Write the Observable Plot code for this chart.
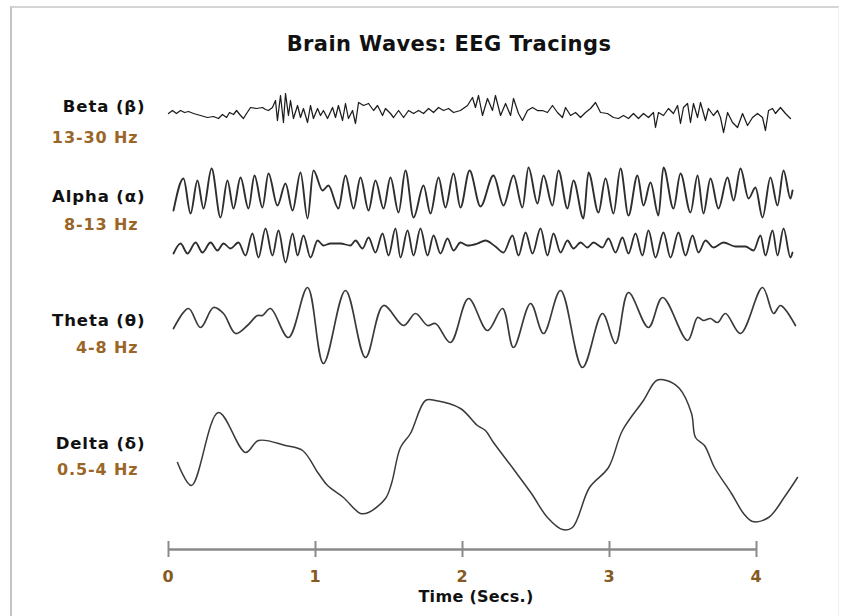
<!DOCTYPE html>
<html>
<head>
<meta charset="utf-8">
<script src="https://cdn.jsdelivr.net/npm/d3@7"></script>
<script src="https://cdn.jsdelivr.net/npm/@observablehq/plot@0.6"></script>
<style>
  html, body { margin: 0; padding: 0; background: #fff; }
  #wrap { position: relative; width: 841px; height: 616px; overflow: hidden; font-family: "DejaVu Sans", sans-serif; }
  #frame { position: absolute; left: 10px; top: 6px; width: 826px; height: 640px;
           border-top: 2px solid #d4d4d4; border-left: 2px solid #c4c4c4; border-right: 1px solid #efefef; }
  #title { position: absolute; top: 32px; left: 0; width: 898px; text-align: center;
           font-weight: bold; font-size: 21px; letter-spacing: 0.4px; color: #111; }
  #chart { position: absolute; top: 64px; left: 0; }
  #xlabel { position: absolute; top: 587px; left: 0; width: 952px; text-align: center;
            font-weight: bold; font-size: 16px; letter-spacing: 0.3px; color: #111; }
</style>
</head>
<body>
<div id="wrap">
  <div id="frame"></div>
  <div id="title">Brain Waves: EEG Tracings</div>
  <div id="chart"></div>
  <div id="xlabel">Time (Secs.)</div>
</div>
<script>
const xTicks = [0, 1, 2, 3, 4];

const bandNames  = ["Beta (β)", "Alpha (α)", "Theta (θ)", "Delta (δ)"];
const bandRanges = ["13-30 Hz", "8-13 Hz", "4-8 Hz", "0.5-4 Hz"];

const betaT = [0.000,0.027,0.054,0.082,0.109,0.136,0.170,0.218,0.265,0.306,
  0.340,0.367,0.395,0.415,0.442,0.463,0.490,0.510,0.531,0.558,
  0.599,0.639,0.660,0.680,0.707,0.728,0.741,0.762,0.782,0.796,
  0.816,0.830,0.850,0.878,0.898,0.918,0.946,0.966,0.986,1.014,
  1.034,1.054,1.082,1.116,1.136,1.156,1.184,1.204,1.224,1.252,
  1.272,1.293,1.327,1.361,1.395,1.422,1.456,1.476,1.510,1.531,
  1.565,1.599,1.633,1.667,1.701,1.735,1.769,1.803,1.837,1.871,
  1.905,1.939,1.986,2.034,2.068,2.088,2.109,2.136,2.170,2.204,
  2.224,2.259,2.293,2.327,2.347,2.381,2.408,2.442,2.476,2.510,
  2.544,2.578,2.612,2.646,2.680,2.701,2.735,2.769,2.803,2.837,
  2.871,2.905,2.939,2.986,3.027,3.061,3.095,3.129,3.163,3.197,
  3.231,3.265,3.299,3.313,3.333,3.367,3.401,3.435,3.463,3.483,
  3.503,3.531,3.551,3.571,3.599,3.619,3.653,3.673,3.707,3.735,
  3.755,3.776,3.803,3.837,3.871,3.905,3.939,3.973,4.007,4.041,
  4.061,4.082,4.109,4.129,4.163,4.197,4.231];
const betaV = [-1,2,-1,2,0,1,-1,-3,-5,-4,
  -6,-2,-5,0,-2,2,-3,-6,-1,5,
  4,5,3,2,5,12,-8,17,-10,19,
  -3,12,-6,7,-5,4,-10,7,-6,4,
  -3,2,-6,5,-5,7,-8,9,-6,2,
  -11,10,7,9,2,7,-3,4,-1,-5,
  2,-5,2,-1,2,-1,4,0,5,2,
  4,0,2,7,15,5,17,-3,14,2,
  17,-3,9,-3,14,-1,-8,2,5,2,
  2,0,7,0,-5,5,-3,0,-5,0,
  4,10,0,-1,-5,-6,-3,-6,-1,-6,
  -1,-5,0,-15,0,-3,4,-1,7,-11,
  5,9,-10,9,-5,10,-8,4,-3,2,
  -5,-20,0,-10,-15,-1,-13,-5,-1,-5,
  -18,2,4,-1,5,-1,-6];

const alpha1T = [0.034,0.102,0.150,0.197,0.238,0.293,0.354,0.401,0.442,0.490,
  0.544,0.585,0.639,0.680,0.741,0.796,0.844,0.898,0.946,0.986,
  1.048,1.088,1.156,1.204,1.259,1.306,1.361,1.408,1.463,1.510,
  1.565,1.612,1.667,1.735,1.782,1.837,1.884,1.939,1.986,2.048,
  2.122,2.211,2.279,2.347,2.408,2.449,2.510,2.551,2.612,2.653,
  2.714,2.755,2.823,2.857,2.925,2.973,3.027,3.075,3.129,3.190,
  3.231,3.279,3.333,3.367,3.435,3.483,3.551,3.599,3.639,3.687,
  3.741,3.803,3.844,3.891,3.946,3.993,4.041,4.095,4.143,4.184,
  4.231,4.245];
const alpha1V = [-15,17,-18,15,-13,27,-22,15,-13,18,
  -13,20,-12,22,-10,12,-15,23,-23,25,
  5,10,-13,20,-13,18,-15,15,-13,18,
  -17,25,-22,10,-18,18,-12,22,-12,25,
  -11,20,-10,20,-12,28,-8,20,-10,25,
  -13,15,-23,23,-17,17,-18,27,-20,20,
  -10,13,-20,28,-13,22,-17,20,-18,17,
  -13,18,-5,27,-3,8,-22,18,-10,25,
  -3,5];

const alpha2T = [0.034,0.082,0.129,0.184,0.231,0.286,0.333,0.374,0.422,0.476,
  0.524,0.571,0.612,0.660,0.707,0.748,0.796,0.844,0.878,0.918,
  0.966,1.014,1.054,1.102,1.170,1.238,1.272,1.320,1.361,1.408,
  1.456,1.497,1.544,1.578,1.626,1.667,1.714,1.762,1.803,1.850,
  1.898,1.939,1.986,2.034,2.102,2.156,2.224,2.279,2.340,2.381,
  2.429,2.476,2.531,2.578,2.619,2.667,2.714,2.755,2.803,2.850,
  2.891,2.952,2.993,3.041,3.088,3.129,3.177,3.224,3.265,3.313,
  3.367,3.415,3.469,3.517,3.565,3.605,3.653,3.707,3.776,3.857,
  3.925,3.980,4.027,4.061,4.109,4.143,4.184,4.231,4.245];
const alpha2V = [-8,2,-8,3,-7,3,-5,2,-3,3,
  -10,12,-12,17,-10,15,-17,12,-10,10,
  -12,5,0,2,2,0,5,-3,8,-7,
  12,-10,17,-12,15,-10,17,-10,10,-8,
  7,-5,3,0,2,5,-1,-7,10,-10,
  13,-8,17,-10,12,-7,5,-3,3,-2,
  3,-2,7,-7,8,-8,12,-10,15,-12,
  13,-12,13,-10,10,-7,5,-2,3,-1,
  -1,-5,10,-10,15,-10,17,-12,-7];

const thetaT = [0.034,0.136,0.218,0.306,0.374,0.456,0.537,0.605,0.639,0.694,
  0.816,0.946,1.054,1.204,1.340,1.463,1.599,1.680,1.762,1.816,
  1.918,2.041,2.170,2.272,2.347,2.463,2.551,2.667,2.816,2.952,
  3.041,3.129,3.265,3.361,3.531,3.599,3.639,3.687,3.735,3.789,
  3.891,4.041,4.116,4.163,4.265];
const thetaV = [-8,12,-7,13,7,-13,-5,5,5,12,
  -17,33,-43,30,-37,15,-5,7,-5,-3,
  -22,22,-10,12,-27,17,-13,30,-47,7,
  -23,28,-7,23,-20,3,0,2,-2,7,
  -13,33,7,15,-5];

const deltaT = [0.061,0.156,0.340,0.524,0.612,0.796,0.912,1.020,1.082,1.190,
  1.306,1.361,1.476,1.517,1.578,1.646,1.748,1.816,1.986,2.102,
  2.156,2.211,2.354,2.469,2.578,2.680,2.748,2.864,2.993,3.088,
  3.231,3.320,3.388,3.476,3.558,3.585,3.646,3.714,3.830,3.912,
  3.973,4.082,4.197,4.279];
const deltaV = [-2,-25,48,8,20,15,10,-13,-25,-37,
  -53,-52,-38,-23,13,27,60,60,52,35,
  30,18,-10,-33,-57,-69,-67,-27,-7,30,
  60,80,80,72,47,23,15,-7,-33,-53,
  -61,-57,-35,-17];

// ---------------- layout ----------------
const W = 841, H = 521;
const X0 = 168, PX_PER_SEC = 147;          // where t = 0 sits and the time scale
const LEVEL = { beta: 473, alpha1: 390, alpha2: 340, theta: 265, delta: 125, axis: 36 };
const nameLevels  = [478.5, 388.5, 265, 142];
const rangeLevels = [447.5, 360.5, 237.5, 115.5];

const FONT = "DejaVu Sans, sans-serif";
const BROWN = "#9a6628";

function trace(T, V, level) {
  const n = Math.min(T.length, V.length);
  const out = [];
  for (let i = 0; i < n; i++) out.push({ t: T[i], v: level + V[i] });
  return out;
}

const chart = Plot.plot({
  width: W,
  height: H,
  marginLeft: 0, marginRight: 0, marginTop: 0, marginBottom: 0,
  style: { fontFamily: FONT, background: "transparent", overflow: "visible", letterSpacing: "0.9px" },
  x: { domain: [0, (W - X0) / PX_PER_SEC], range: [X0, W], axis: null },
  y: { domain: [0, H], range: [H, 0], axis: null },
  marks: [
    // tracings
    Plot.line(trace(betaT, betaV, LEVEL.beta),       { x: "t", y: "v", curve: "linear",      stroke: "#1c1c1c", strokeWidth: 1.25 }),
    Plot.line(trace(alpha1T, alpha1V, LEVEL.alpha1), { x: "t", y: "v", curve: "monotone-x",  stroke: "#2e2e2e", strokeWidth: 1.9 }),
    Plot.line(trace(alpha2T, alpha2V, LEVEL.alpha2), { x: "t", y: "v", curve: "monotone-x",  stroke: "#2e2e2e", strokeWidth: 1.8 }),
    Plot.line(trace(thetaT, thetaV, LEVEL.theta),    { x: "t", y: "v", curve: "catmull-rom", stroke: "#3a3a3a", strokeWidth: 1.7 }),
    Plot.line(trace(deltaT, deltaV, LEVEL.delta),    { x: "t", y: "v", curve: "catmull-rom", stroke: "#3a3a3a", strokeWidth: 1.5 }),

    // time axis
    Plot.ruleY([LEVEL.axis], { x1: xTicks[0], x2: xTicks[xTicks.length - 1], stroke: "#8a8a8a", strokeWidth: 2.6 }),
    Plot.ruleX(xTicks, { x: d => d, y1: LEVEL.axis - 8, y2: LEVEL.axis + 8, stroke: "#8a8a8a", strokeWidth: 2 }),
    Plot.text(xTicks, { x: d => d, y: LEVEL.axis, dy: 27, text: d => String(d),
      fill: "#86591f", fontWeight: "bold", fontSize: 16, fontFamily: FONT }),

    // band labels
    Plot.text(bandNames, { frameAnchor: "left", dx: 145, y: (d, i) => nameLevels[i], text: d => d,
      textAnchor: "end", fill: "#111", fontWeight: "bold", fontSize: 16.5, fontFamily: FONT }),
    Plot.text(bandRanges, { frameAnchor: "left", dx: 138, y: (d, i) => rangeLevels[i], text: d => d,
      textAnchor: "end", fill: BROWN, fontWeight: "bold", fontSize: 16, fontFamily: FONT })
  ]
});

document.getElementById("chart").appendChild(chart);
</script>
</body>
</html>
